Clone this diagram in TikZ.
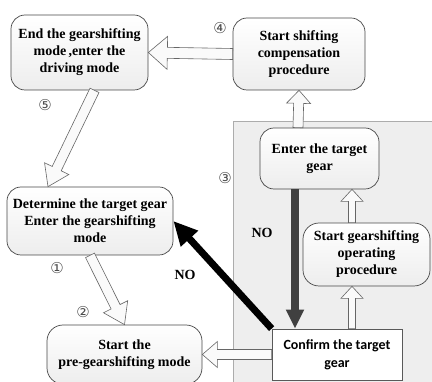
\documentclass[tikz,border=0pt]{standalone}
\usepackage{fontspec}
\setmainfont{Liberation Serif}
\newfontfamily\calfont{Carlito}
\newfontfamily\circfont{DejaVu Sans}
\usetikzlibrary{calc,arrows.meta}

\tikzset{
  stage/.style={draw=black!72, line width=0.7pt, rounded corners=14pt, top color=white,
    bottom color=gray!14, align=center, inner sep=0pt,
    font=\fontsize{14}{17}\selectfont\bfseries},
  confirm/.style={draw=black!65, line width=0.7pt, fill=white, align=center, inner sep=0pt,
    font=\calfont\fontsize{14}{18}\selectfont\bfseries},
  hollow/.style={draw=black!60, fill=gray!4, line width=0.6pt, line join=miter},
  stepno/.style={font=\circfont\fontsize{15}{15}\selectfont, text=black!70},
  nolabel/.style={font=\fontsize{14}{14}\selectfont\bfseries},
}

% hollow block arrow: from, to, shaft half width, head half width, head length
\newcommand{\blockarrow}[5]{%
  \coordinate (ba-s) at #1;
  \coordinate (ba-t) at #2;
  \coordinate (ba-b) at ($(ba-t)!#5pt!(ba-s)$);
  \draw[hollow] ($(ba-s)!#3pt!90:(ba-t)$) -- ($(ba-b)!#3pt!90:(ba-t)$)
    -- ($(ba-b)!#4pt!90:(ba-t)$) -- (ba-t) -- ($(ba-b)!#4pt!-90:(ba-t)$)
    -- ($(ba-b)!#3pt!-90:(ba-t)$) -- ($(ba-s)!#3pt!-90:(ba-t)$) -- cycle;
}

\begin{document}
\begin{tikzpicture}[x=1pt,y=-1pt]
   \useasboundingbox (0,0) rectangle (432,382);
   % shifting stage background
   \filldraw[fill=gray!13, draw=gray!65] (233,121) rectangle (445,395);

   \node[stage, minimum width=137pt, minimum height=75pt] (endmode) at (79.5,52.5)
     {End the gearshifting\\mode\,,enter the\\driving mode};
   \node[stage, minimum width=132pt, minimum height=72pt] (comp) at (299,54)
     {Start shifting\\compensation\\procedure};
   \node[stage, minimum width=119pt, minimum height=61pt] (enter) at (319.5,158.5)
     {Enter the target\\gear};
   \node[stage, minimum width=127pt, minimum height=63pt, rounded corners=16pt] (operate) at (366.5,254.5)
     {Start gearshifting\\operating\\procedure};
   \node[confirm, minimum width=130pt, minimum height=51pt] (confirm) at (337,354.5)
     {Confirm the target\\gear};
   \node[stage, minimum width=166pt, minimum height=68pt] (determine) at (90,221)
     {Determine the target gear\\Enter the gearshifting\\mode};
   \node[stage, minimum width=155pt, minimum height=59pt, rounded corners=16pt] (pre) at (124.5,354.5)
     {Start the\\pre-gearshifting mode};

   % hollow arrows
   \blockarrow{(comp.west)}{(endmode.east)}{5.5}{16.5}{19}
   \blockarrow{($(endmode.south)+(15,0)$)}{($(determine.north)+(-42,0)$)}{5}{13.5}{20}
   \blockarrow{(determine.south)}{(pre.north)}{5}{13.5}{20}
   \blockarrow{(confirm.west)}{(pre.east)}{5}{13}{15}
   \blockarrow{($(confirm.north)+(15,0)$)}{($(operate.south)+(-14.5,0)$)}{3.5}{11}{12}
   \blockarrow{($(operate.north)+(-14.5,0)$)}{($(enter.south)+(32.5,0)$)}{3.5}{11}{12}
   \blockarrow{($(enter.north)+(-21.5,0)$)}{(comp.south)}{5}{12}{13}

   % NO branches
   \draw[draw=black!75, line width=7.5pt, -{Triangle[length=19pt,width=17pt]}]
     ($(enter.south)+(-24.5,0)$) -- ($(confirm.north)+(-42,0)$);
   \draw[draw=black, line width=7pt, -{Triangle[length=24pt,width=22pt]}]
     (confirm.north west) -- (determine.east);

   \node[nolabel] (no1) at (262,233) {NO};
   \node[nolabel] (no2) at (185,275) {NO};

   \node[stepno] (s1) at (57,268) {①};
   \node[stepno] (s2) at (83,312) {②};
   \node[stepno] (s3) at (225,178) {③};
   \node[stepno] (s4) at (220,28) {④};
   \node[stepno] (s5) at (45,105) {⑤};
\end{tikzpicture}
\end{document}
